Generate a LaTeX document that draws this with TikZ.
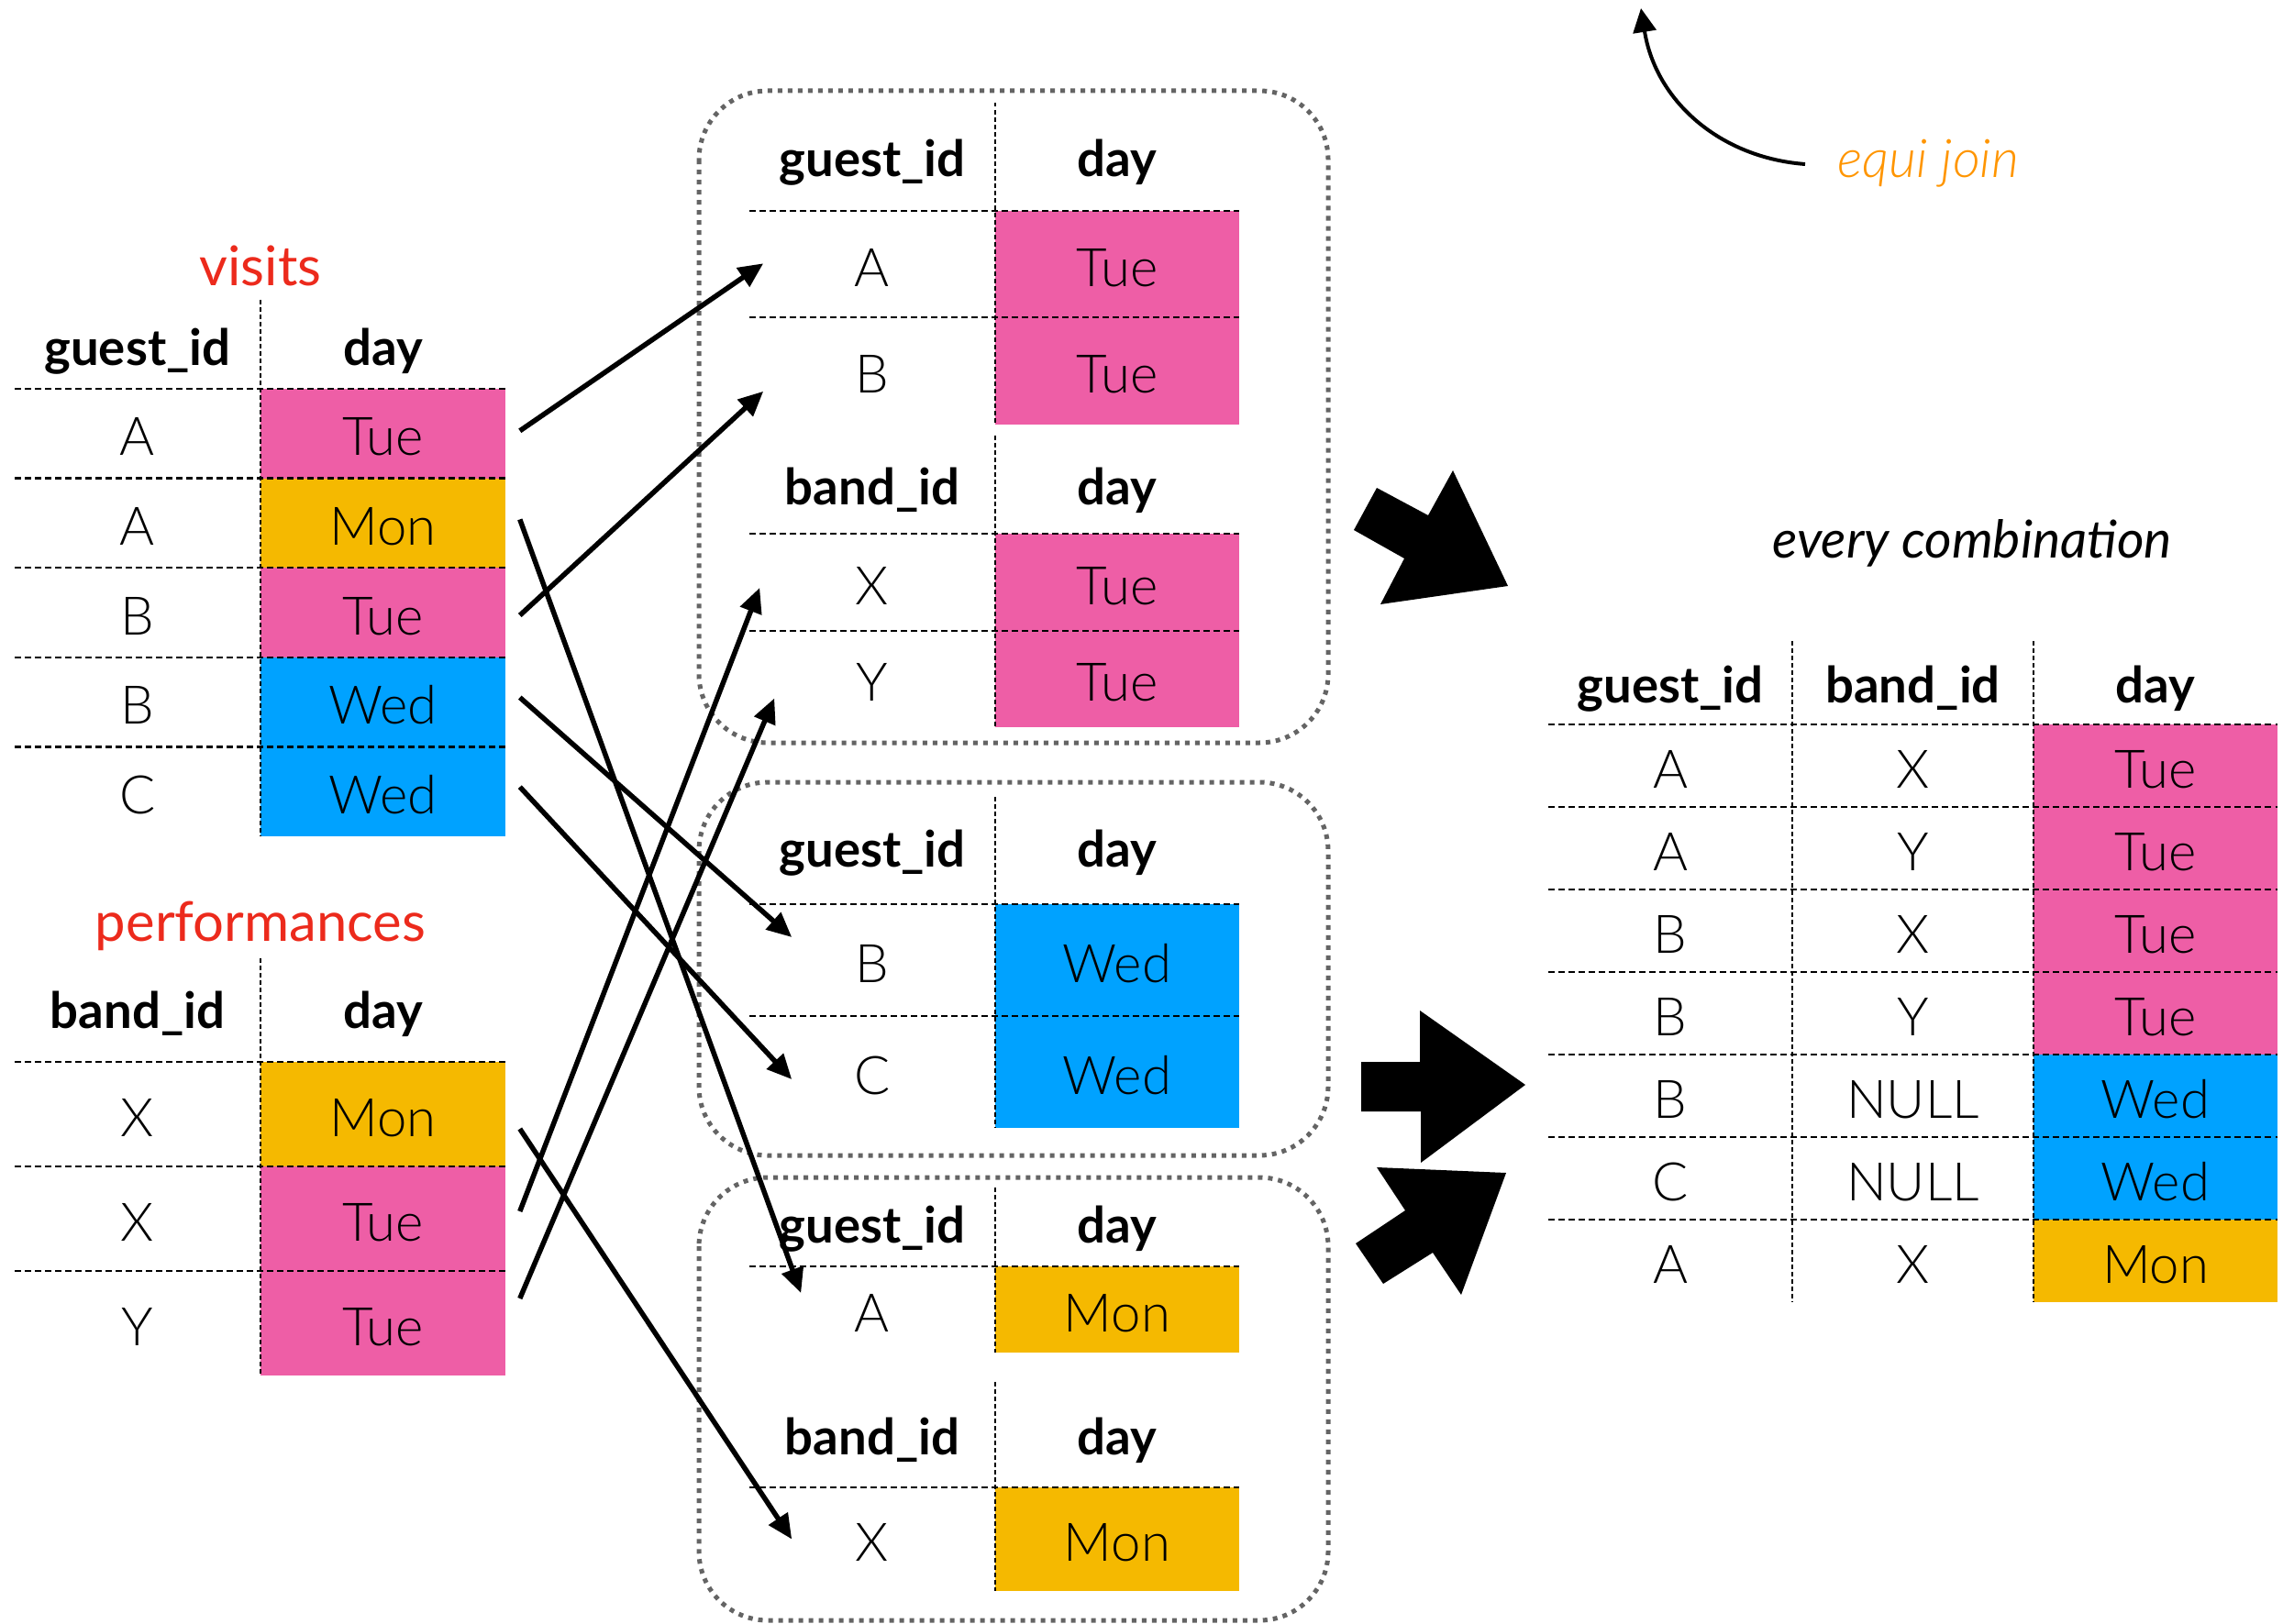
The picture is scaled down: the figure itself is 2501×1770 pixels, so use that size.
\documentclass[tikz,border=0pt]{standalone}
\usepackage{fontspec}
\setmainfont{Lato}
\newfontfamily\lightf{Lato Light}
\usetikzlibrary{calc,arrows.meta}
\definecolor{tue}{RGB}{238,94,166}
\definecolor{mon}{RGB}{245,185,0}
\definecolor{wed}{RGB}{0,162,255}
\definecolor{titlered}{RGB}{236,42,28}
\definecolor{equi}{RGB}{255,149,0}
\definecolor{boxgray}{RGB}{100,100,100}
\tikzset{
  val/.style={font=\lightf\fontsize{16.5}{18}\selectfont, inner sep=0pt, text height=0.48cm, text depth=0cm},
  hdr/.style={font=\bfseries\fontsize{15.5}{18}\selectfont, inner sep=0pt, text height=0.42cm, text depth=0.12cm, yshift=-0.05cm},
  ttl/.style={font=\fontsize{17}{20}\selectfont, text=titlered, inner sep=0pt},
  hline/.style={line width=0.025cm, dash pattern=on 0.065cm off 0.045cm},
  vline/.style={line width=0.025cm, dash pattern=on 0.045cm off 0.035cm},
  joinbox/.style={draw=boxgray, line width=0.05cm, dash pattern=on 0.05cm off 0.06cm, rounded corners=0.75cm},
  arr/.style={line width=0.055cm, -{Triangle[length=0.27cm,width=0.24cm]}},
  blockarrow/.style={fill=black},
}
\begin{document}
\begin{tikzpicture}[x=0.01cm, y=-0.01cm]
\useasboundingbox (0,0) rectangle (2501,1770);

% ---------------- visits ----------------
\node[ttl] (visits) at (284,290) {visits};
\node[hdr] (vh1) at (150,378) {guest\_id};
\node[hdr] (vh2) at (418,378) {day};
\foreach \i/\g/\d/\c in {1/A/Tue/tue, 2/A/Mon/mon, 3/B/Tue/tue, 4/B/Wed/wed, 5/C/Wed/wed} {
  \node[val, minimum width=2.68cm, minimum height=0.976cm] (vg\i) at (150,{424+97.6*(\i-0.5)}) {\g};
  \node[val, fill=\c, minimum width=2.67cm, minimum height=0.976cm] (vd\i) at (417.5,{424+97.6*(\i-0.5)}) {\d};
}
\foreach \y in {424,521.6,619.2,716.8,814.4} \draw[hline] (16,\y) -- (551,\y);
\draw[vline] (284,327) -- (284,912);

% ---------------- performances ----------------
\node[ttl] (perf) at (284,1010) {performances};
\node[hdr] (ph1) at (150,1101) {band\_id};
\node[hdr] (ph2) at (418,1101) {day};
\foreach \i/\g/\d/\c in {1/X/Mon/mon, 2/X/Tue/tue, 3/Y/Tue/tue} {
  \node[val, minimum width=2.68cm, minimum height=1.14cm] (pg\i) at (150,{1158+114*(\i-0.5)}) {\g};
  \node[val, fill=\c, minimum width=2.67cm, minimum height=1.14cm] (pd\i) at (417.5,{1158+114*(\i-0.5)}) {\d};
}
\foreach \y in {1158,1272,1386} \draw[hline] (16,\y) -- (551,\y);
\draw[vline] (284,1045) -- (284,1500);

% ---------------- box 1 ----------------
\draw[joinbox] (762,99) rectangle (1448,810);
\node[hdr] (b1h1) at (951,172) {guest\_id};
\node[hdr] (b1h2) at (1218,172) {day};
\node[val, minimum width=2.68cm, minimum height=1.165cm] (b1g1) at (951,288.25) {A};
\node[val, fill=tue, minimum width=2.66cm, minimum height=1.165cm] (b1d1) at (1218,288.25) {Tue};
\node[val, minimum width=2.68cm, minimum height=1.165cm] (b1g2) at (951,404.75) {B};
\node[val, fill=tue, minimum width=2.66cm, minimum height=1.165cm] (b1d2) at (1218,404.75) {Tue};
\node[hdr] (b1h3) at (951,530) {band\_id};
\node[hdr] (b1h4) at (1218,530) {day};
\node[val, minimum width=2.68cm, minimum height=1.055cm] (b1x1) at (951,635) {X};
\node[val, fill=tue, minimum width=2.66cm, minimum height=1.055cm] (b1e1) at (1218,635) {Tue};
\node[val, minimum width=2.68cm, minimum height=1.055cm] (b1x2) at (951,740.5) {Y};
\node[val, fill=tue, minimum width=2.66cm, minimum height=1.055cm] (b1e2) at (1218,740.5) {Tue};
\foreach \y in {230,346,582,688} \draw[hline] (817,\y) -- (1351,\y);
\draw[vline] (1085,112) -- (1085,463);
\draw[vline] (1085,475) -- (1085,793);

% ---------------- box 2 ----------------
\draw[joinbox] (762,853) rectangle (1448,1260);
\node[hdr] (b2h1) at (951,925) {guest\_id};
\node[hdr] (b2h2) at (1218,925) {day};
\node[val, minimum width=2.68cm, minimum height=1.22cm] (b2g1) at (951,1047) {B};
\node[val, fill=wed, minimum width=2.66cm, minimum height=1.22cm] (b2d1) at (1218,1047) {Wed};
\node[val, minimum width=2.68cm, minimum height=1.22cm] (b2g2) at (951,1169) {C};
\node[val, fill=wed, minimum width=2.66cm, minimum height=1.22cm] (b2d2) at (1218,1169) {Wed};
\foreach \y in {986,1108} \draw[hline] (817,\y) -- (1351,\y);
\draw[vline] (1085,869) -- (1085,1230);

% ---------------- box 3 ----------------
\draw[joinbox] (762,1284) rectangle (1448,1767);
\node[hdr] (b3h1) at (951,1335) {guest\_id};
\node[hdr] (b3h2) at (1218,1335) {day};
\node[val, minimum width=2.68cm, minimum height=0.94cm] (b3g1) at (951,1428) {A};
\node[val, fill=mon, minimum width=2.66cm, minimum height=0.94cm] (b3d1) at (1218,1428) {Mon};
\node[hdr] (b3h3) at (951,1566) {band\_id};
\node[hdr] (b3h4) at (1218,1566) {day};
\node[val, minimum width=2.68cm, minimum height=1.13cm] (b3x1) at (951,1678.5) {X};
\node[val, fill=mon, minimum width=2.66cm, minimum height=1.13cm] (b3e1) at (1218,1678.5) {Mon};
\foreach \y in {1381,1622} \draw[hline] (817,\y) -- (1351,\y);
\draw[vline] (1085,1295) -- (1085,1475);
\draw[vline] (1085,1507) -- (1085,1735);

% ---------------- connectors ----------------
\draw[arr] ($(vd1.east)+(15,-3)$) -- ($(b1g1.west)+(16,-1)$);
\draw[arr] ($(vd3.east)+(15,3)$) -- ($(b1g2.west)+(16,22)$);
\draw[arr] ($(vd2.east)+(15,-4)$) -- ($(b3g1.west)+(57,-18)$);
\draw[arr] ($(vd4.east)+(15,-5)$) -- ($(b2g1.west)+(47,-25)$);
\draw[arr] ($(vd5.east)+(15,-5)$) -- ($(b2g2.west)+(47,8)$);
\draw[arr] ($(pd2.east)+(15,-8)$) -- ($(b1x1.west)+(12,6)$);
\draw[arr] ($(pd3.east)+(15,-27)$) -- ($(b1x2.west)+(28,21)$);
\draw[arr] ($(pd1.east)+(15,16)$) -- ($(b3x1.west)+(47,0)$);

% ---------------- block arrows ----------------
\fill[blockarrow] (1501,532) -- (1557,562) -- (1584,513) -- (1644,639) -- (1505,659) -- (1531,609) -- (1476,578) -- cycle;
\fill[blockarrow] (1484,1158) -- (1548,1158) -- (1548,1102) -- (1663,1183) -- (1549,1268) -- (1549,1212) -- (1484,1212) -- cycle;
\fill[blockarrow] (1501,1273) -- (1642,1279) -- (1593,1412) -- (1562,1366) -- (1508,1400) -- (1478,1356) -- (1532,1320) -- cycle;

% ---------------- equi join ----------------
\node[font=\lightf\itshape\fontsize{16.5}{18}\selectfont, text=equi, inner sep=0pt, anchor=west] (ej) at (2003,178) {equi join};
\coordinate (ejtip) at (1789,9);
\draw[line width=0.04cm, -{Triangle[length=0.26cm,width=0.25cm]}] ($(ej.west)+(-35,1)$) .. controls (1875,172) and (1805,110) .. (ejtip);

% ---------------- result ----------------
\node[font=\itshape\fontsize{16.2}{20}\selectfont, inner sep=0pt] (every) at (2150,592) {every combination};
\node[hdr] (rh1) at (1821,746) {guest\_id};
\node[hdr] (rh2) at (2085.5,746) {band\_id};
\node[hdr] (rh3) at (2350,746) {day};
\foreach \i/\g/\b/\d/\c in {1/A/X/Tue/tue, 2/A/Y/Tue/tue, 3/B/X/Tue/tue, 4/B/Y/Tue/tue, 5/B/NULL/Wed/wed, 6/C/NULL/Wed/wed, 7/A/X/Mon/mon} {
  \node[val, minimum width=2.66cm, minimum height=0.9cm] (rg\i) at (1821,{790+90*(\i-0.5)}) {\g};
  \node[val, minimum width=2.63cm, minimum height=0.9cm] (rb\i) at (2085.5,{790+90*(\i-0.5)}) {\b};
  \node[val, fill=\c, minimum width=2.66cm, minimum height=0.9cm] (rd\i) at (2350,{790+90*(\i-0.5)}) {\d};
}
\foreach \y in {790,880,970,1060,1150,1240,1330} \draw[hline] (1688,\y) -- (2483,\y);
\draw[vline] (1954,699) -- (1954,1420);
\draw[vline] (2217,699) -- (2217,1420);
\end{tikzpicture}
\end{document}
